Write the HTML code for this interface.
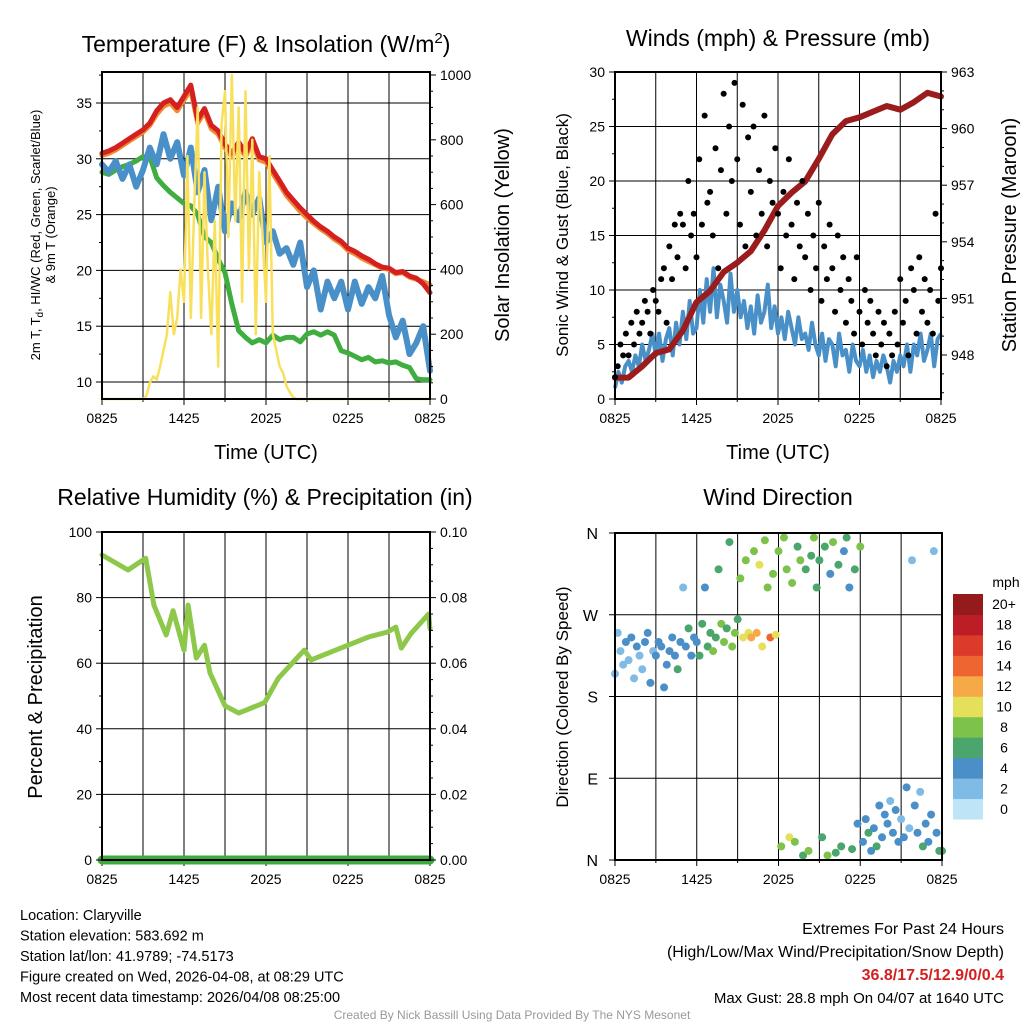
<!DOCTYPE html>
<html><head><meta charset="utf-8"><style>
body{margin:0;background:#fff}
svg{display:block;font-family:"Liberation Sans",sans-serif}
</style></head><body>
<svg id="c" width="1024" height="1024" viewBox="0 0 1024 1024"></svg>
<script>
// ---------- data ----------
const xTicks=["0825","1425","2025","0225","0825"];
const tempRed=[30.5,30.7,31,31.4,31.8,32.2,32.6,33.2,34.3,35,35.3,34.6,35.6,36.6,33.5,34.5,33,32.5,31.3,30.5,31.5,30.5,31.8,30.2,30,29,28,27,26.3,25.6,25,24.4,23.9,23.5,23,22.6,22,21.7,21.3,21,20.6,20.3,20.2,19.8,19.9,19.5,19.3,18.8,18];
const tempOrange=[30.3,30.5,30.8,31.2,31.6,32,32.4,33,34,34.7,35,34.3,35.3,36.2,33.2,34.2,32.7,32.2,31,30.2,31.2,30.2,31.5,29.9,29.7,28.7,27.7,26.7,26,25.3,24.7,24.2,23.7,23.3,22.8,22.4,21.8,21.5,21.1,20.8,20.5,20.2,20.1,19.7,19.8,19.4,19.2,19,18.7];
const dewGreen=[28.8,28.6,29,29.3,29.5,29.8,30.2,30.2,28.3,27.6,27,26.5,26,25.8,25,23,22.5,21,19.8,17,14.6,14,13.5,13.8,13.5,14.2,13.8,14,14,13.6,14.3,14.5,14.2,14.5,14.2,12.8,12.6,12.3,12,12.2,11.8,11.9,11.7,11.8,11.5,11.3,10.3,10.2,10.2];
const tempBlue=[29.5,28.8,29.8,28.2,29.5,27.5,29,31,29.5,32.2,30,31.5,28.5,31,27,29,24.5,27.5,23.5,26,24.5,27,25,26.5,22.5,23.5,21.5,22,20.5,22.5,18.5,20,16.5,19,17.5,19,16.5,19,17,18.5,17.5,19.5,16,14,15.5,12.5,13.5,15,11];
const solar=[0,0,0,0,0,0,0,0,0,0,0,0,0,10,50,70,60,100,150,200,330,200,250,400,300,750,250,600,900,250,700,400,200,550,100,850,950,500,1000,550,900,300,950,400,800,200,700,500,300,750,200,150,100,80,40,20,5,0,0,0,0,0,0,0,0,0,0,0,0,0,0,0,0,0,0,0,0,0,0,0,0,0,0,0,0,0,0,0,0,0,0,0,0,0,0,0,0];
const windSpd=[1,2.5,1.5,3,3.5,2.5,4,3,5,3.5,4.5,6,4,6,3.5,5.5,6.5,4,7,5,8,5.5,9,6,6.5,10,7,11,8,12,7.5,10.5,9,7,11.5,8,10,7.5,9,6.5,8.5,6,9.5,7,8,10.5,6.5,8.5,6,7.5,5.5,8,6.5,5,7.5,5.5,6,4.5,7,5,4,6,3.5,5.5,5,3,6,4,4.5,2.5,5,3.5,3,4.5,2.5,4,2,3.5,2.5,4,3,1.5,3.5,2.5,4,3,5,2.5,5,4,6,3.5,4.5,6,3,5.5,6];
const gust=[2,3,5,4,6,4,7,5,8,6,7,9,8,6,10,9,8,11,12,7,14,11,16,13,17,16,12,20,15,17,13,22,16,26,18,19,15,23,12,21,28,17,25,20,29,22,16,27,14,24,19,25,15,21,17,26,14,20,18,23,17,12,19,15,22,16,11,18,14,20,13,17,10,15,12,18,9,14,11,16,12,8,15,10,13,7,11,9,6,13,8,5,10,7,9,6,4,8,5,7,3,6,4,8,5,11,7,9,4,12,10,6,13,8,11,7,10,6,17,9,12];
const pressure=[946.8,946.8,947.4,948.1,948.3,949.3,950.8,951.4,952.4,952.9,953.5,954.6,955.9,956.6,957.2,958.4,959.7,960.4,960.6,960.9,961.2,961,961.4,961.9,961.7];
const rhT=[0,1.9,3.2,3.8,4.7,5.2,6,6.3,6.9,7.5,7.9,9,10,11.9,12.9,14.8,15.3,18,19.5,20.9,21.5,21.9,22.6,23.9,24];
const rhV=[93,88.4,92,77.7,68.6,76,64,77.7,61.6,65.5,57,47,44.8,48,55.4,64,61,65.5,68,69.5,71,64.6,69,75,70.5];
const precip=[0,0];
const windDir=[205,250,230,215,240,220,245,200,235,225,210,240,250,195,230,225,240,235,190,215,230,245,225,210,240,300,235,255,225,245,240,225,260,300,235,250,230,245,320,260,240,255,350,235,250,265,310,245,330,250,245,340,250,325,235,352,300,245,315,248,340,15,355,320,25,305,20,345,330,5,320,10,335,355,300,330,25,345,5,315,350,8,325,15,340,355,300,12,320,40,345,20,45,30,10,35,15,60,25,50,40,65,30,55,20,45,25,80,35,330,60,30,75,15,40,20,50,340,30,10,10];
const dirSpd=[1,2,1,2,3,2,3,2,3,2,2,4,3,3,2,4,3,4,4,3,3,4,4,5,3,2,4,5,4,3,4,5,6,3,5,6,7,5,6,7,7,6,6,8,7,6,7,9,8,10,11,8,12,9,9,8,7,13,8,9,8,7,8,7,9,8,7,6,7,6,6,8,5,7,5,5,6,6,7,4,7,6,5,5,4,6,4,5,6,4,7,4,3,5,4,4,5,3,4,3,3,2,4,3,4,2,4,3,1,1,3,4,2,5,3,4,3,2,4,5,6];
const speedBins=["0","2","4","6","8","10","12","14","16","18","20+"];
const speedColors=["#bde4f7","#80bbe5","#4a8fc7","#4aa66c","#7dc24a","#e5e05a","#f5a947","#ef652f","#dc3a2a","#bd1e26","#941a1c"];
// ---------- helpers ----------
const NS="http://www.w3.org/2000/svg";
const svg=document.getElementById('c');
function mk(tag,attrs,parent){const e=document.createElementNS(NS,tag);for(const k in attrs)e.setAttribute(k,attrs[k]);(parent||svg).appendChild(e);return e;}
function txt(s,x,y,size,anchor,extra,parent){const e=mk('text',Object.assign({x:x,y:y,'font-size':size,'text-anchor':anchor||'middle',fill:'#000'},extra||{}),parent);e.textContent=s;return e;}
function lin(v0,v1,p0,p1){return v=>p0+(v-v0)*(p1-p0)/(v1-v0);}
function pathOf(xs,ys){return xs.map((x,i)=>(i?'L':'M')+x.toFixed(1)+' '+ys[i].toFixed(1)).join('');}

function frame(g,L,R,T,B,hy){
  for(let i=1;i<8;i++){const x=L+(R-L)*i/8;
    const l=mk('line',{x1:x,x2:x,y1:T,y2:B,stroke:'#000','stroke-width':1},g);
    
    }
  hy.forEach(y=>{const l=mk('line',{x1:L,x2:R,y1:y,y2:y,stroke:'#000','stroke-width':1},g);
    
    });
  for(let i=0;i<=8;i++){const x=L+(R-L)*i/8;mk('line',{x1:x,x2:x,y1:B,y2:B+(i%2?3:6),stroke:'#000'},g);}
  xTicks.forEach((s,i)=>{const t=txt(s,L+(R-L)*i/4,B+24,14,'middle',{},g);
    
    });
}
function border(g,L,R,T,B){const r=mk('rect',{x:L,y:T,width:R-L,height:B-T,fill:'none',stroke:'#000','stroke-width':2},g);
  
  }
function yAxis(g,side,X,vals,sc,labels,minor){
  const d=side==='l'?-1:1;
  vals.forEach((v,i)=>{const y=sc(v);mk('line',{x1:X,x2:X+d*6,y1:y,y2:y,stroke:'#000'},g);
    const t=txt(labels[i],X+d*10,y+5,14,side==='l'?'end':'start',{},g);
    
    });
  (minor||[]).forEach(v=>{const y=sc(v);mk('line',{x1:X,x2:X+d*3,y1:y,y2:y,stroke:'#000'},g);});
}
function rot(s,x,y,size,g){const t=txt(s,x,y,size,'middle',{transform:`rotate(-90 ${x} ${y})`},g);return t;}

// ================= Panel 1 =================
(function(){
  const g=mk('g',{});
  const L=102,R=430,T=72,B=399;
  const xs=lin(0,24,L,R), ys=lin(10,35,382,103), yr=lin(0,1000,399,75);
  frame(g,L,R,T,B,[10,15,20,25,30,35].map(ys));
  const tHalf=tempRed.map((_,i)=>i*0.5);
  const tq=solar.map((_,i)=>i*0.25);
  const gr=mk('path',{d:pathOf(tHalf.map(xs),dewGreen.map(ys)),fill:'none',stroke:'#3fae3f','stroke-width':5,'stroke-linejoin':'round','stroke-linecap':'round'},g);
  
  const bl=mk('path',{d:pathOf(tHalf.map(xs),tempBlue.map(ys)),fill:'none',stroke:'#4a90c8','stroke-width':6,'stroke-linejoin':'round','stroke-linecap':'round'},g);
  
  const or=mk('path',{d:pathOf(tHalf.map(xs),tempOrange.map(ys)),fill:'none',stroke:'#f08a30','stroke-width':5,'stroke-linejoin':'round','stroke-linecap':'round'},g);
  
  const rd=mk('path',{d:pathOf(tHalf.map(xs),tempRed.map(ys)),fill:'none',stroke:'#d42020','stroke-width':5,'stroke-linejoin':'round','stroke-linecap':'round'},g);
  
  const s2=mk('path',{d:pathOf(tq.map(xs),solar.map(yr)),fill:'none',stroke:'#f9e05c','stroke-width':2.5,'stroke-linejoin':'round'},g);
  
  border(g,L,R,T,B);
  yAxis(g,'l',L,[10,15,20,25,30,35],ys,["10","15","20","25","30","35"],[12.5,17.5,22.5,27.5,32.5,37.5]);
  yAxis(g,'r',R,[0,200,400,600,800,1000],yr,["0","200","400","600","800","1000"],[50,100,150,250,300,350,450,500,550,650,700,750,850,900,950]);
  const tt=txt('',266,52,23,'middle',{},g);tt.innerHTML='Temperature (F) &amp; Insolation (W/m<tspan dy="-9" font-size="15">2</tspan><tspan dy="9">)</tspan>';
  
  const xl=txt('Time (UTC)',266,459,20,'middle',{},g);
  const a=rot('',40,235,13,g);a.innerHTML='2m T, T<tspan dy="3" font-size="10">d</tspan><tspan dy="-3">, HI/WC (Red, Green, Scarlet/Blue)</tspan>';
  
  const b=rot('& 9m T (Orange)',55,235,13,g);
  const c=rot('Solar Insolation (Yellow)',509,235,20,g);
})();

// ================= Panel 2 =================
(function(){
  const g=mk('g',{});
  const L=615,R=941,T=72,B=399;
  const xs=lin(0,24,L,R), ys=lin(0,30,399,72), yp=lin(948,963,355,72);
  frame(g,L,R,T,B,[5,10,15,20,25].map(ys));
  const tq=windSpd.map((_,i)=>i*0.25);
  const w=mk('path',{d:pathOf(tq.map(xs),windSpd.map(ys)),fill:'none',stroke:'#4a90c8','stroke-width':4,'stroke-linejoin':'round'},g);
  
  const tp=pressure.map((_,i)=>i);
  const p=mk('path',{d:pathOf(tp.map(xs),pressure.map(yp)),fill:'none',stroke:'#9b1c1c','stroke-width':6,'stroke-linejoin':'round','stroke-linecap':'round'},g);
  
  gust.forEach((v,i)=>{const c=mk('circle',{cx:xs(i*0.2),cy:ys(v),r:3,fill:'#000'},g);
    
    });
  border(g,L,R,T,B);
  yAxis(g,'l',L,[0,5,10,15,20,25,30],ys,["0","5","10","15","20","25","30"],[2.5,7.5,12.5,17.5,22.5,27.5]);
  yAxis(g,'r',R,[948,951,954,957,960,963],yp,["948","951","954","957","960","963"],[946,947,949,950,952,953,955,956,958,959,961,962]);
  const tt=txt('Winds (mph) & Pressure (mb)',778,46,23,'middle',{},g);
  const xl=txt('Time (UTC)',778,459,20,'middle',{},g);
  const a=rot('Sonic Wind & Gust (Blue, Black)',568,235,17,g);
  const b=rot('Station Pressure (Maroon)',1016,235,20,g);
})();

// ================= Panel 3 =================
(function(){
  const g=mk('g',{});
  const L=102,R=430,T=532,B=860;
  const xs=lin(0,24,L,R), ys=lin(0,100,860,532), yr=lin(0,0.1,860,532);
  frame(g,L,R,T,B,[20,40,60,80].map(ys));
  const rh=mk('path',{d:pathOf(rhT.map(xs),rhV.map(ys)),fill:'none',stroke:'#8dc84b','stroke-width':5,'stroke-linejoin':'round','stroke-linecap':'round'},g);
  
  const pr=mk('path',{d:pathOf([0,24].map(xs),precip.map(yr)),fill:'none',stroke:'#3daa3d','stroke-width':9,'stroke-linecap':'round'},g);
  
  border(g,L,R,T,B);
  yAxis(g,'l',L,[0,20,40,60,80,100],ys,["0","20","40","60","80","100"],[10,30,50,70,90]);
  yAxis(g,'r',R,[0,0.02,0.04,0.06,0.08,0.1],yr,["0.00","0.02","0.04","0.06","0.08","0.10"],[0.005,0.01,0.015,0.025,0.03,0.035,0.045,0.05,0.055,0.065,0.07,0.075,0.085,0.09,0.095]);
  const tt=txt('Relative Humidity (%) & Precipitation (in)',265,505,23,'middle',{},g);
  const a=rot('Percent & Precipitation',42,697,20,g);
})();

// ================= Panel 4 =================
(function(){
  const g=mk('g',{});
  const L=615,R=942,T=533,B=860;
  const xs=lin(0,24,L,R), ys=lin(0,360,860,533);
  frame(g,L,R,T,B,[90,180,270].map(ys));
  windDir.forEach((d,i)=>{const k=Math.min(10,Math.round(dirSpd[i]/2));
    const c=mk('circle',{cx:xs(i*0.2),cy:ys(d),r:4,fill:speedColors[k]},g);
    
    });
  border(g,L,R,T,B);
  const lab=["N","E","S","W","N"];
  [0,90,180,270,360].forEach((v,i)=>{const y=ys(v);mk('line',{x1:L,x2:L-6,y1:y,y2:y,stroke:'#000'},g);
    const t=txt(lab[i],598,y+6,16,'end',{},g);});
  const tt=txt('Wind Direction',778,505,23,'middle',{},g);
  const a=rot('Direction (Colored By Speed)',568,697,17,g);
  const cb=mk('g',{},g);
  const h=225/11;
  speedColors.forEach((col,i)=>{const r=mk('rect',{x:953,y:819-(i+1)*h,width:30,height:h+0.5,fill:col},cb);
    
    const t=txt(speedBins[i],1004,819-(i+0.5)*h+5,14,'middle',{},cb);});
  const u=txt('mph',1006,587,14,'middle',{},cb);
})();

// ================= Footer =================
(function(){
  const g=mk('g',{});
  ["Location: Claryville","Station elevation: 583.692 m","Station lat/lon: 41.9789; -74.5173","Figure created on Wed, 2026-04-08, at 08:29 UTC","Most recent data timestamp: 2026/04/08 08:25:00"].forEach((s,i)=>{
    const t=txt(s,20,920+i*20.5,14.5,'start',{},g);});
  const a=txt('Extremes For Past 24 Hours',1004,934,16,'end',{},g);
  const b=txt('(High/Low/Max Wind/Precipitation/Snow Depth)',1004,957,16,'end',{},g);
  const c=txt('36.8/17.5/12.9/0/0.4',1004,980,16,'end',{fill:'#d42020','font-weight':'bold'},g);
  const d=txt('Max Gust: 28.8 mph On 04/07 at 1640 UTC',1004,1003,15,'end',{},g);
  const e=txt('Created By Nick Bassill Using Data Provided By The NYS Mesonet',512,1019,12,'middle',{fill:'#999'},g);
})();
</script>
</body></html>
